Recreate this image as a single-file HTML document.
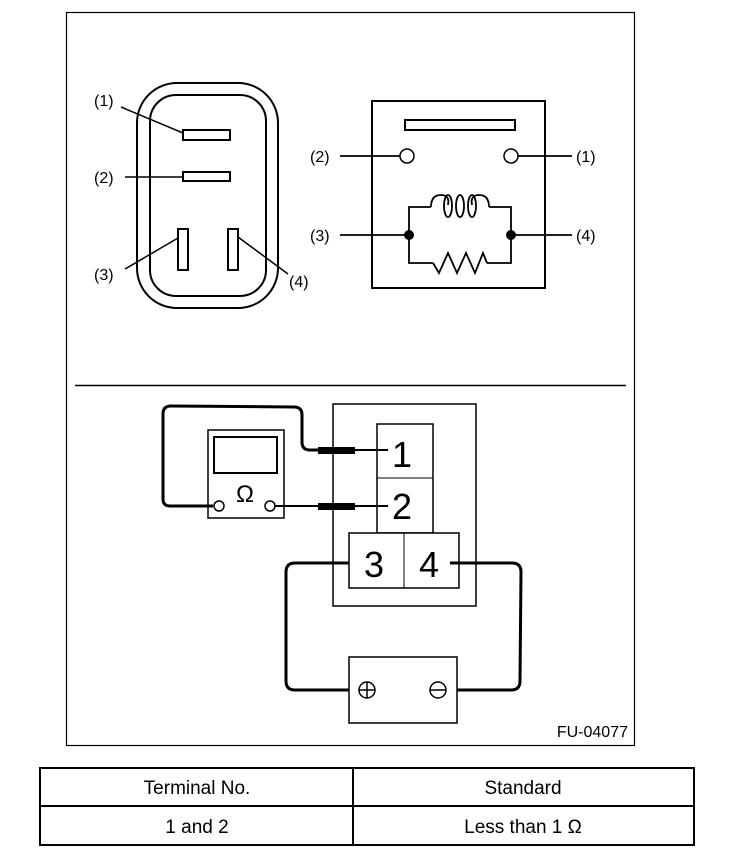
<!DOCTYPE html>
<html><head><style>
body{margin:0;background:#fff;}
svg{display:block;}
text{font-family:"Liberation Sans",sans-serif;fill:#000;}
</style></head><body>
<svg width="736" height="862" viewBox="0 0 736 862" xmlns="http://www.w3.org/2000/svg">
<rect x="66.5" y="12.5" width="568" height="733" fill="none" stroke="#000" stroke-width="1.2"/>
<!-- connector -->
<rect x="137" y="83" width="141" height="225" rx="40" fill="none" stroke="#000" stroke-width="2"/>
<rect x="150" y="95" width="116" height="201" rx="26" fill="none" stroke="#000" stroke-width="2"/>
<rect x="183" y="130" width="47" height="10" fill="none" stroke="#000" stroke-width="2"/>
<rect x="183" y="172" width="47" height="9" fill="none" stroke="#000" stroke-width="2"/>
<rect x="178" y="229" width="10" height="41" fill="none" stroke="#000" stroke-width="2"/>
<rect x="228" y="229" width="10" height="41" fill="none" stroke="#000" stroke-width="2"/>
<g stroke="#000" stroke-width="1.5">
<line x1="121" y1="107" x2="183" y2="133"/>
<line x1="125" y1="177" x2="183" y2="177"/>
<line x1="125" y1="269" x2="178" y2="238"/>
<line x1="238" y1="237" x2="288" y2="274"/>
</g>
<g font-size="16">
<text x="94" y="106">(1)</text>
<text x="94" y="183">(2)</text>
<text x="94" y="280">(3)</text>
<text x="289" y="287">(4)</text>
</g>
<!-- relay -->
<rect x="372" y="101" width="173" height="187" fill="none" stroke="#000" stroke-width="2"/>
<rect x="405" y="120" width="110" height="10" fill="none" stroke="#000" stroke-width="2"/>
<circle cx="407" cy="156" r="7" fill="#fff" stroke="#000" stroke-width="1.5"/>
<circle cx="511" cy="156" r="7" fill="#fff" stroke="#000" stroke-width="1.5"/>
<g stroke="#000" stroke-width="1.8" fill="none">
<line x1="340" y1="156" x2="400" y2="156"/>
<line x1="518" y1="156" x2="572" y2="156"/>
<line x1="340" y1="235" x2="408" y2="235"/>
<line x1="511" y1="235" x2="572" y2="235"/>
<polyline points="431,207 409,207 409,263 433,263"/>
<polyline points="489,207 511,207 511,263 487,263"/>
<path d="M431,207 Q431,195 441,195 Q450,195 448,205"/>
<path d="M489,207 Q489,195 479,195 Q470,195 472,205"/>
<ellipse cx="448" cy="206" rx="4" ry="11"/>
<ellipse cx="460" cy="206" rx="4" ry="11"/>
<ellipse cx="472" cy="206" rx="4" ry="11"/>
<polyline points="433,263 439,273 448,253 457,273 466,253 475,273 483,253 487,263"/>
</g>
<circle cx="409" cy="235" r="5" fill="#000"/>
<circle cx="511" cy="235" r="5" fill="#000"/>
<g font-size="16">
<text x="310" y="162">(2)</text>
<text x="576" y="162">(1)</text>
<text x="310" y="241">(3)</text>
<text x="576" y="241">(4)</text>
</g>
<line x1="75" y1="385.5" x2="626" y2="385.5" stroke="#000" stroke-width="1.5"/>
<!-- bottom diagram -->
<rect x="333" y="404" width="143" height="202" fill="none" stroke="#000" stroke-width="1.5"/>
<rect x="377" y="424" width="56" height="109" fill="none" stroke="#000" stroke-width="1.5"/>
<line x1="377" y1="478" x2="433" y2="478" stroke="#000" stroke-width="1"/>
<rect x="349" y="533" width="110" height="55" fill="#fff" stroke="#000" stroke-width="1.5"/>
<line x1="404" y1="533" x2="404" y2="588" stroke="#000" stroke-width="1"/>
<text x="392" y="467" font-size="36">1</text>
<text x="392" y="519" font-size="36">2</text>
<text x="364" y="577" font-size="36">3</text>
<text x="419" y="577" font-size="36">4</text>
<!-- meter -->
<rect x="208" y="430" width="76" height="88" fill="none" stroke="#000" stroke-width="1.5"/>
<rect x="214" y="437" width="63" height="36" fill="none" stroke="#000" stroke-width="2"/>
<text x="245" y="502" font-size="24" text-anchor="middle">Ω</text>
<g stroke="#000" fill="none">
<path d="M213,506 L170,506 Q163,506 163,499 L163,414 Q163,406 171,406 L294,407 Q302,407 302,415 L302,442 Q302,450 310,450 L320,450" stroke-width="3"/>
<line x1="355" y1="450" x2="388" y2="450" stroke-width="2"/>
<line x1="275" y1="506" x2="320" y2="506" stroke-width="2"/>
<line x1="355" y1="506" x2="388" y2="506" stroke-width="2"/>
<path d="M349,563 L295,563 Q286,563 286,572 L286,681 Q286,690 295,690 L359,690" stroke-width="3"/>
<path d="M450,563 L512,563 Q521,563 521,572 L520,681 Q520,690 511,690 L446,690" stroke-width="3"/>
</g>
<rect x="318" y="447" width="37" height="7" fill="#000"/>
<rect x="318" y="503" width="37" height="7" fill="#000"/>
<circle cx="219" cy="506" r="5" fill="#fff" stroke="#000" stroke-width="1.5"/>
<circle cx="270" cy="506" r="5" fill="#fff" stroke="#000" stroke-width="1.5"/>
<!-- battery -->
<rect x="349" y="657" width="108" height="66" fill="#fff" stroke="#000" stroke-width="1.5"/>
<circle cx="367" cy="690" r="8" fill="#fff" stroke="#000" stroke-width="1.5"/>
<line x1="359" y1="690" x2="375" y2="690" stroke="#000" stroke-width="1.5"/>
<line x1="367" y1="682" x2="367" y2="698" stroke="#000" stroke-width="1.5"/>
<circle cx="438" cy="690" r="8" fill="#fff" stroke="#000" stroke-width="1.5"/>
<line x1="430" y1="690" x2="446" y2="690" stroke="#000" stroke-width="1.5"/>
<text x="628" y="737" font-size="16" text-anchor="end">FU-04077</text>
<!-- table -->
<rect x="40" y="768" width="654" height="77" fill="none" stroke="#000" stroke-width="2"/>
<line x1="40" y1="806" x2="694" y2="806" stroke="#000" stroke-width="2"/>
<line x1="353" y1="768" x2="353" y2="845" stroke="#000" stroke-width="2"/>
<g font-size="19" text-anchor="middle">
<text x="197" y="794">Terminal No.</text>
<text x="523" y="794">Standard</text>
<text x="197" y="833">1 and 2</text>
<text x="523" y="833">Less than 1 Ω</text>
</g>
</svg>
</body></html>
